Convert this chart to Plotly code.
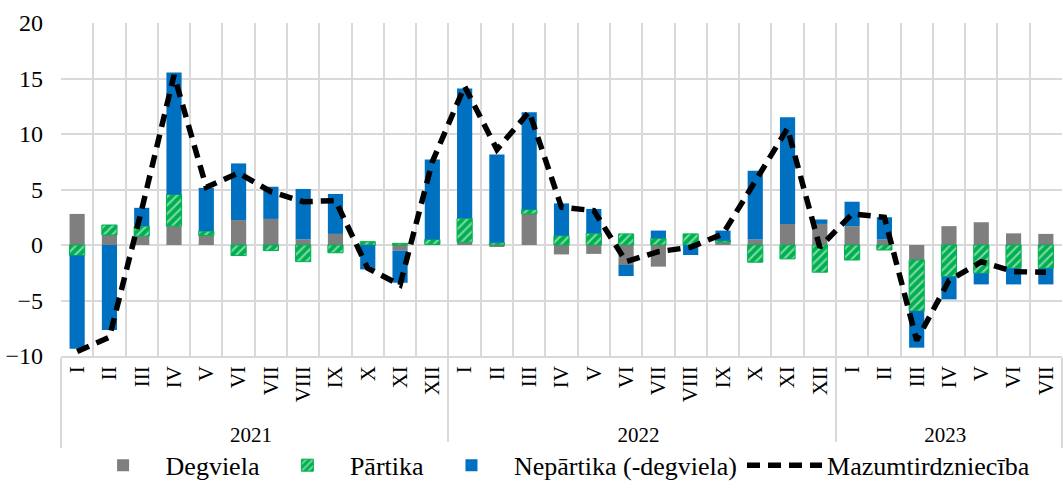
import plotly.graph_objects as go

years = ["2021"] * 12 + ["2022"] * 12 + ["2023"] * 7
months = (["I", "II", "III", "IV", "V", "VI", "VII", "VIII", "IX", "X", "XI", "XII"] * 2
          + ["I", "II", "III", "IV", "V", "VI", "VII"])

degviela = [2.8, 0.9, 0.8, 1.7, 0.85, 2.25, 2.35, 0.5, 1.0, 0.0, -0.5, 0.05,
            0.25, -0.15, 2.8, -0.85, -0.8, -1.8, -1.95, 0.0, 0.25, 0.5, 1.9, 1.9,
            1.7, 0.5, -1.35, 1.7, 2.05, 1.05, 1.0]
partika = [-0.95, 0.9, 0.9, 2.85, 0.4, -0.95, -0.5, -1.5, -0.7, 0.3, 0.15, 0.45,
           2.15, 0.2, 0.4, 0.85, 1.05, 1.0, 0.6, 1.0, 0.15, -1.55, -1.25, -2.45,
           -1.35, -0.45, -4.6, -2.85, -2.55, -2.1, -2.1]
nepartika = [-8.4, -7.65, 1.65, 11.0, 3.9, 5.1, 2.9, 4.55, 3.6, -2.2, -2.9, 7.2,
             11.7, 7.95, 8.75, 2.9, 2.2, -1.0, 0.7, -0.9, 0.9, 6.2, 9.6, 0.4,
             2.2, 2.0, -3.3, -2.05, -1.0, -1.45, -1.45]
mazumtirdznieciba = [-9.6, -8.3, 3.2, 15.3, 5.2, 6.5, 4.8, 3.9, 4.0, -2.1, -3.6, 7.5,
                     14.3, 8.6, 12.0, 3.4, 3.1, -1.5, -0.6, -0.2, 1.0, 5.7, 10.5, -0.2,
                     2.8, 2.5, -8.6, -3.2, -1.5, -2.4, -2.45]

x = [years, months]
FONT = "Times New Roman, Liberation Serif, DejaVu Serif, serif"
GRID = "#D9D9D9"

fig = go.Figure()
fig.add_trace(go.Bar(x=x, y=degviela, name="Degviela",
                     marker=dict(color="#7F7F7F", line=dict(width=0))))
fig.add_trace(go.Bar(x=x, y=partika, name="Pārtika",
                     marker=dict(color="#00B050", line=dict(color="#00B050", width=1),
                                 pattern=dict(shape="/", fgcolor="white", size=6,
                                              solidity=0.35, fillmode="overlay"))))
fig.add_trace(go.Bar(x=x, y=nepartika, name="Nepārtika (-degviela)",
                     marker=dict(color="#0070C0", line=dict(width=0))))
fig.add_trace(go.Scatter(x=x, y=mazumtirdznieciba, name="Mazumtirdzniecība",
                         mode="lines",
                         line=dict(color="black", width=5.5, dash="13px,8px")))

fig.update_layout(
    width=1063, height=503,
    barmode="relative", bargap=0.53,
    plot_bgcolor="white", paper_bgcolor="white",
    margin=dict(l=61, r=1, t=23, b=147, autoexpand=False),
    font=dict(family=FONT, color="black", size=22),
    legend=dict(orientation="h", xref="container", yref="container",
                x=0.525, xanchor="center", y=0.075, yanchor="middle",
                font=dict(size=26, family=FONT), itemwidth=75,
                traceorder="normal"),
    showlegend=True,
)
fig.update_xaxes(type="multicategory", tickson="boundaries", showgrid=True,
                 gridcolor=GRID, gridwidth=1.5, tickangle=-90,
                 tickfont=dict(size=21, family=FONT), automargin=False,
                 showline=True, linecolor=GRID, linewidth=1.5,
                 showdividers=True, dividercolor=GRID, dividerwidth=1.5,
                 ticks="", range=[-0.5, 30.5])
fig.update_yaxes(range=[-10, 20], dtick=5, showgrid=True, gridcolor=GRID,
                 gridwidth=1.5, zeroline=False, tickfont=dict(size=24, family=FONT),
                 ticks="", showline=False, automargin=False, ticklabelstandoff=17)

fig.write_html("out.html", config={"displayModeBar": False},
               post_script="document.body.style.margin='0';document.body.style.padding='0';")
